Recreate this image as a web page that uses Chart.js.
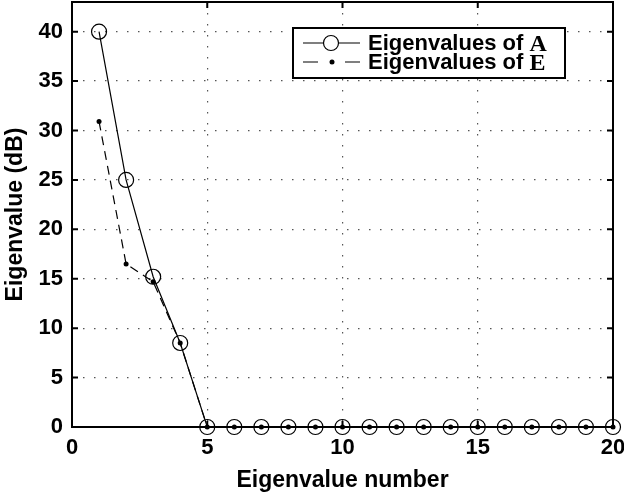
<!DOCTYPE html>
<html><head><meta charset="utf-8">
<script src="https://cdn.jsdelivr.net/npm/chart.js@4"></script>
<style>html,body{margin:0;padding:0;background:#fff}#wrap{width:624px;height:496px}</style>
</head><body><div id="wrap"><canvas id="c" width="624" height="496"></canvas></div>
<script>
const eigenNumbers = [1,2,3,4,5,6,7,8,9,10,11,12,13,14,15,16,17,18,19,20];
const eigenA = [40,25,15.2,8.5,0,0,0,0,0,0,0,0,0,0,0,0,0,0,0,0];
const eigenE = [30.9,16.5,14.7,8.5,0,0,0,0,0,0,0,0,0,0,0,0,0,0,0,0];
const seriesNames = ['Eigenvalues of ', 'Eigenvalues of '];
const seriesSymbols = ['A', 'E'];
const xTitle = 'Eigenvalue number';
const yTitle = 'Eigenvalue (dB)';

const toPts = (ys) => eigenNumbers.map((x,i)=>({x:x,y:ys[i]}));
const SANS = '"Liberation Sans", Arial, Helvetica, sans-serif';
const SERIF = '"Liberation Serif", "Times New Roman", serif';

const framePlugin = {
  id:'frame',
  afterDraw(chart){
    const {ctx, chartArea:a, scales:{x,y}} = chart;
    ctx.save();
    ctx.strokeStyle='#000';
    ctx.lineWidth=2;
    ctx.strokeRect(a.left,a.top,a.right-a.left,a.bottom-a.top);
    ctx.beginPath();
    x.ticks.forEach(t=>{const px=x.getPixelForValue(t.value);
      ctx.moveTo(px,a.bottom);ctx.lineTo(px,a.bottom-6);
      ctx.moveTo(px,a.top);ctx.lineTo(px,a.top+6);});
    y.ticks.forEach(t=>{const py=y.getPixelForValue(t.value);
      ctx.moveTo(a.left,py);ctx.lineTo(a.left+6,py);
      ctx.moveTo(a.right,py);ctx.lineTo(a.right-6,py);});
    ctx.stroke();
    ctx.restore();
  }
};

const legendPlugin = {
  id:'customLegend',
  afterDatasetsDraw(chart){
    const ctx = chart.ctx;
    ctx.save();
    const bx=293, by=28, bw=272, bh=50;
    ctx.fillStyle='#fff';
    ctx.fillRect(bx,by,bw,bh);
    ctx.strokeStyle='#000';ctx.lineWidth=2;
    ctx.strokeRect(bx,by,bw,bh);
    const rows=[43,62];
    ctx.lineWidth=1.2;
    ctx.beginPath();ctx.moveTo(303,rows[0]);ctx.lineTo(360,rows[0]);ctx.stroke();
    ctx.fillStyle='#fff';
    ctx.beginPath();ctx.arc(331,rows[0],7.5,0,Math.PI*2);ctx.fill();ctx.stroke();
    ctx.beginPath();ctx.moveTo(303,rows[1]);ctx.lineTo(318,rows[1]);
    ctx.moveTo(345,rows[1]);ctx.lineTo(360,rows[1]);ctx.stroke();
    ctx.fillStyle='#000';
    ctx.beginPath();ctx.arc(332,rows[1],2.5,0,Math.PI*2);ctx.fill();
    ctx.textBaseline='middle';
    rows.forEach((ry,i)=>{
      ctx.font='bold 22px '+SANS;
      ctx.fillStyle='#000';
      ctx.fillText(seriesNames[i],368,ry+1);
      const w=ctx.measureText(seriesNames[i]).width;
      ctx.font='bold 24px '+SERIF;
      ctx.fillText(seriesSymbols[i],368+w,ry+2);
    });
    ctx.restore();
  }
};

new Chart(document.getElementById('c'),{
  type:'scatter',
  data:{datasets:[
    {label:'Eigenvalues of A',data:toPts(eigenA),showLine:true,borderColor:'#000',borderWidth:1.2,
     pointStyle:'circle',pointRadius:7.5,pointBorderWidth:1.2,pointBorderColor:'#000',pointBackgroundColor:'rgba(0,0,0,0)',clip:false,order:2},
    {label:'Eigenvalues of E',data:toPts(eigenE),showLine:true,borderColor:'#000',borderWidth:1.2,borderDash:[9,6],
     pointStyle:'circle',pointRadius:2.5,pointBorderWidth:0,pointBackgroundColor:'#000',clip:false,order:1}
  ]},
  options:{
    responsive:false,animation:false,
    layout:{autoPadding:false,padding:{top:2,right:11,left:0,bottom:0}},
    plugins:{legend:{display:false},tooltip:{enabled:false}},
    scales:{
      x:{type:'linear',min:0,max:20,
        ticks:{stepSize:5,color:'#000',font:{family:SANS,size:22,weight:'bold'},padding:8,maxRotation:0},
        grid:{color:'#555',lineWidth:1.2,drawTicks:false},
        border:{display:false,dash:[1.5,9.5]},
        title:{display:true,text:xTitle,color:'#000',font:{family:SANS,size:23,weight:'bold'},padding:{top:4,bottom:2}},
        afterFit(s){s.height=69;s.paddingRight=0;s.paddingLeft=0;}
      },
      y:{type:'linear',min:0,max:43,
        ticks:{stepSize:5,includeBounds:false,color:'#000',font:{family:SANS,size:22,weight:'bold'},padding:9},
        grid:{color:'#555',lineWidth:1.2,drawTicks:false},
        border:{display:false,dash:[1.5,9.5]},
        title:{display:true,text:yTitle,color:'#000',font:{family:SANS,size:23,weight:'bold'},padding:{top:2,bottom:0}},
        afterFit(s){s.width=72;s.paddingTop=0;s.paddingBottom=0;}
      }
    }
  },
  plugins:[framePlugin,legendPlugin]
});
</script>
</body></html>
